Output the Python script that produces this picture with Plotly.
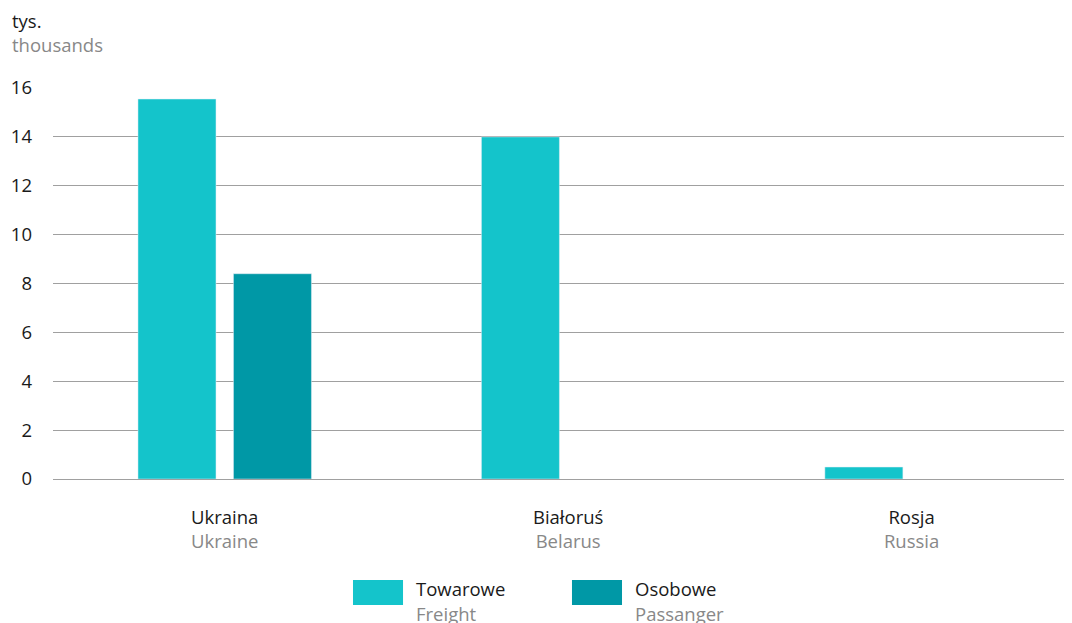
import plotly.graph_objects as go

categories_pl = ["Ukraina", "Białoruś", "Rosja"]
categories_en = ["Ukraine", "Belarus", "Russia"]
freight = [15.55, 14.0, 0.49]
passenger = [8.4, None, None]
series_pl = ["Towarowe", "Osobowe"]
series_en = ["Freight", "Passanger"]
colors = ["#14C4CB", "#0098A6"]
y_ticks = [0, 2, 4, 6, 8, 10, 12, 14, 16]

FONT = "Open Sans"
DARK = "#1a1a1a"
GRAY = "#888888"
FS = 18.5

xs = list(range(len(categories_pl)))
fig = go.Figure()
fig.add_trace(go.Bar(x=xs, y=freight, marker_color=colors[0], name=series_pl[0], showlegend=False))
fig.add_trace(go.Bar(x=xs, y=passenger, marker_color=colors[1], name=series_pl[1], showlegend=False))

ticktext = [f"{p}<br><span style='color:{GRAY}'>{e}</span>" for p, e in zip(categories_pl, categories_en)]

fig.update_layout(
    width=1064, height=615,
    margin=dict(l=45, r=0, t=80, b=144),
    paper_bgcolor="white", plot_bgcolor="white",
    barmode="group", bargap=0.444, bargroupgap=0.183,
    font=dict(family=FONT, size=FS, color=DARK),
    xaxis=dict(range=[-0.5, 2.467], tickvals=xs, ticktext=ticktext, showgrid=False,
               zeroline=False, showline=False, ticks="", ticklabelstandoff=25,
               tickfont=dict(size=FS, color=DARK)),
    yaxis=dict(range=[0, 16], tickvals=y_ticks, showgrid=True, gridcolor="#a0a0a0",
               gridwidth=1, zeroline=True, zerolinecolor="#a0a0a0", zerolinewidth=1,
               showline=False, ticks="", ticklabelstandoff=20,
               tickfont=dict(size=FS, color=DARK)),
)

# title (unit)
fig.add_annotation(text="tys.", xref="paper", yref="paper", x=-0.0425, y=1.173,
                   xanchor="left", yanchor="middle", showarrow=False,
                   font=dict(size=FS, color=DARK))
fig.add_annotation(text="thousands", xref="paper", yref="paper", x=-0.0425, y=1.1115,
                   xanchor="left", yanchor="middle", showarrow=False,
                   font=dict(size=FS, color=GRAY))

# custom legend
legend_x = [0.2944, 0.5093]
sw_w = 0.0491
for i in range(2):
    x0 = legend_x[i]
    fig.add_shape(type="rect", xref="paper", yref="paper", x0=x0, x1=x0 + sw_w,
                  y0=-0.3223, y1=-0.2583, fillcolor=colors[i], line_width=0)
    fig.add_annotation(text=series_pl[i], xref="paper", yref="paper", x=x0 + 0.0600, y=-0.281,
                       xanchor="left", yanchor="middle", showarrow=False,
                       font=dict(size=FS, color=DARK))
    fig.add_annotation(text=series_en[i], xref="paper", yref="paper", x=x0 + 0.0600, y=-0.343,
                       xanchor="left", yanchor="middle", showarrow=False,
                       font=dict(size=FS, color=GRAY))

fig.write_html("out.html")
